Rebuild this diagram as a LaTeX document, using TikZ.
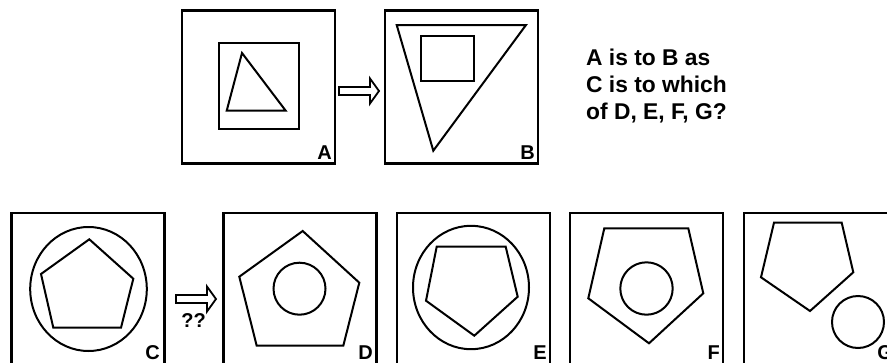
\documentclass[tikz,border=0pt]{standalone}
\usepackage{fontspec}
\setmainfont{Liberation Sans}
\usetikzlibrary{calc}

\begin{document}
\begin{tikzpicture}[x=1pt, y=-1pt,
    panel/.style={draw, line width=2.2pt, minimum width=153pt, minimum height=153pt, inner sep=0pt},
    tag/.style={font=\fontsize{20}{24}\selectfont\bfseries, inner sep=0pt, anchor=base east},
    fig/.style={line width=2pt},
    hollow/.pic={\draw[line width=1.8pt] (0,-4) -- (31,-4) -- (31,-12.5) -- (40,0) -- (31,12.5) -- (31,4) -- (0,4) -- cycle;}]
    \useasboundingbox (0,0) rectangle (887,362);
    \clip (0,0) rectangle (887,362);
    % top row
    \node[panel] (boxA) at (258.5,87) {};
    \node[panel] (boxB) at (461.5,87) {};
    \draw[fig] (219.3,43.3) rectangle (299,129.3);
    \draw[fig] (242,53) -- (285.7,110.7) -- (226.7,110.7) -- cycle;
    \draw[fig] (396.7,25) -- (526,25) -- (433.3,150.7) -- cycle;
    \draw[fig] (420.7,36) rectangle (474.3,81);
    \node[tag] (tagA) at (332,159) {A};
    \node[tag] (tagB) at (535,159) {B};
    \pic (arrAB) at (339,91) {hollow};
    \node[anchor=north west, align=left, inner sep=0pt, font=\fontsize{22.8}{26.7}\selectfont\bfseries] (question) at (586,49) {A is to B as\\C is to which\\of D, E, F, G?};
    % bottom row
    \node[panel] (boxC) at (88,289.5) {};
    \node[panel] (boxD) at (300,289.5) {};
    \node[panel] (boxE) at (473.5,289.5) {};
    \node[panel] (boxF) at (646.5,289.5) {};
    \node[panel] (boxG) at (820.5,289.5) {};
    % C
    \draw[fig] (88.5,289) ellipse [x radius=58.3, y radius=62];
    \draw[fig] (89.3,239.3) -- (133.3,278.7) -- (121,327.7) -- (53.3,327.7) -- (41,274) -- cycle;
    % D
    \draw[fig] (302.7,231) -- (359.3,282.7) -- (343.3,345.7) -- (256.7,345.7) -- (239.3,276.7) -- cycle;
    \draw[fig] (299.5,288.7) circle [radius=26];
    % E
    \draw[fig] (471,287.5) ellipse [x radius=58, y radius=61.7];
    \draw[fig] (436.7,246.7) -- (505.7,246.7) -- (517.7,296.7) -- (474.3,335.7) -- (426,300.7) -- cycle;
    % F
    \draw[fig] (604.3,228.3) -- (688.3,228.3) -- (703.3,293.3) -- (649,343.3) -- (588.3,298.3) -- cycle;
    \draw[fig] (646.5,288.5) circle [radius=26.2];
    % G
    \draw[fig] (774,222.7) -- (841.7,222.7) -- (853.3,272.3) -- (810,311) -- (761,277.3) -- cycle;
    \draw[fig] (858,322) circle [radius=26];
    \node[tag] (tagC) at (160,359) {C};
    \node[tag] (tagD) at (373,359) {D};
    \node[tag] (tagE) at (547,359) {E};
    \node[tag] (tagF) at (720,359) {F};
    \node[tag] (tagG) at (893,359) {G};
    \pic (arrCD) at (176,299) {hollow};
    \node[font=\fontsize{20}{24}\selectfont\bfseries, inner sep=0pt] (guess) at (193.5,321) {??};
\end{tikzpicture}
\end{document}
